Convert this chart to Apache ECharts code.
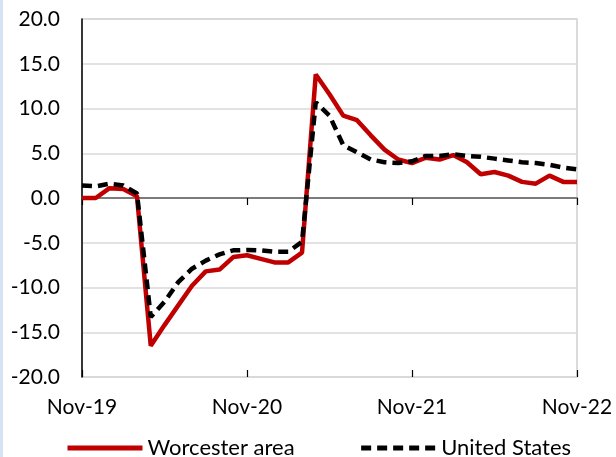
<!DOCTYPE html>
<html>
<head>
<meta charset="utf-8">
<script src="https://cdn.jsdelivr.net/npm/echarts@6/dist/echarts.min.js"></script>
<style>
  html, body { margin: 0; padding: 0; background: #fff; }
  #chart { width: 616px; height: 457px; }
  #strip { position: absolute; left: 0; top: 0; width: 3px; height: 457px; background: #d6e3f4; }
</style>
</head>
<body>
<div id="chart"></div>
<div id="strip"></div>
<script>
// monthly, Nov-19 .. Nov-22
const months = ["Nov-19","Dec-19","Jan-20","Feb-20","Mar-20","Apr-20","May-20","Jun-20","Jul-20","Aug-20","Sep-20","Oct-20",
  "Nov-20","Dec-20","Jan-21","Feb-21","Mar-21","Apr-21","May-21","Jun-21","Jul-21","Aug-21","Sep-21","Oct-21",
  "Nov-21","Dec-21","Jan-22","Feb-22","Mar-22","Apr-22","May-22","Jun-22","Jul-22","Aug-22","Sep-22","Oct-22","Nov-22"];

const worcester = [0.0, 0.0, 1.1, 1.0, 0.2, -16.5, -14.2, -12.0, -9.8, -8.2, -8.0, -6.6,
  -6.4, -6.8, -7.2, -7.2, -6.1, 13.8, 11.6, 9.2, 8.7, 7.0, 5.4, 4.3,
  3.9, 4.5, 4.3, 4.8, 4.0, 2.65, 2.9, 2.5, 1.8, 1.6, 2.5, 1.8, 1.8];

const unitedStates = [1.4, 1.3, 1.6, 1.4, 0.5, -13.3, -11.6, -9.4, -7.9, -7.0, -6.3, -5.85,
  -5.8, -5.85, -6.0, -6.0, -4.9, 10.7, 9.2, 5.9, 5.1, 4.3, 4.0, 3.9,
  4.1, 4.7, 4.7, 4.9, 4.7, 4.6, 4.4, 4.2, 4.0, 3.9, 3.7, 3.4, 3.2];

const seriesNames = ["Worcester area", "United States"];

const FONT = "Lato";
const chart = echarts.init(document.getElementById("chart"));

// label axis at bottom, line axis on zero (ticks down + ticks up)
const baseX = {
  type: "category",
  data: months,
  boundaryGap: false,
  gridIndex: 0
};

const option = {
  animation: false,
  textStyle: { fontFamily: FONT },
  grid: {
    left: 82, right: 39, top: 19, bottom: 80,
    show: true, borderColor: "#d0d0d0", borderWidth: 1.5
  },
  legend: {
    left: 60, top: 432,
    itemWidth: 75, itemHeight: 14, itemGap: 64,
    textStyle: { fontFamily: FONT, fontSize: 22, color: "#000" },
    itemStyle: { color: "transparent", borderWidth: 0, opacity: 0 },
    lineStyle: { width: 5 },
    data: seriesNames
  },
  xAxis: [
    Object.assign({}, baseX, {
      position: "bottom",
      axisLine: { show: false, onZero: false },
      axisTick: { show: false },
      splitLine: { show: false },
      axisLabel: {
        interval: 11, margin: 20, showMaxLabel: true,
        fontFamily: FONT, fontSize: 21, color: "#000"
      }
    }),
    Object.assign({}, baseX, {
      position: "bottom",
      axisLine: { show: true, onZero: true, lineStyle: { color: "#595959", width: 1.5 } },
      axisTick: { show: true, interval: 11, length: 7, lineStyle: { color: "#000", width: 1.2 } },
      axisLabel: { show: false },
      splitLine: { show: false }
    }),
    Object.assign({}, baseX, {
      position: "bottom",
      axisLine: { show: false, onZero: true },
      axisTick: { show: true, inside: true, interval: 11, length: 7, lineStyle: { color: "#000", width: 1.2 } },
      axisLabel: { show: false },
      splitLine: { show: false }
    })
  ],
  yAxis: {
    type: "value",
    min: -20, max: 20, interval: 5,
    axisLine: { show: true, lineStyle: { color: "#000", width: 1.5 } },
    axisTick: { show: false },
    splitLine: { lineStyle: { color: "#d9d9d9", width: 1.5 } },
    axisLabel: {
      margin: 22, fontFamily: FONT, fontSize: 21, color: "#000",
      formatter: v => v.toFixed(1)
    }
  },
  series: [
    {
      name: seriesNames[0], type: "line", data: worcester, xAxisIndex: 0,
      symbol: "none", z: 3,
      lineStyle: { color: "#c00000", width: 4.5 },
      itemStyle: { color: "#c00000" }
    },
    {
      name: seriesNames[1], type: "line", data: unitedStates, xAxisIndex: 0,
      symbol: "none", z: 4,
      lineStyle: { color: "#000", width: 4.5, type: [10, 6] },
      itemStyle: { color: "#000" }
    }
  ]
};

chart.setOption(option);
</script>
</body>
</html>
